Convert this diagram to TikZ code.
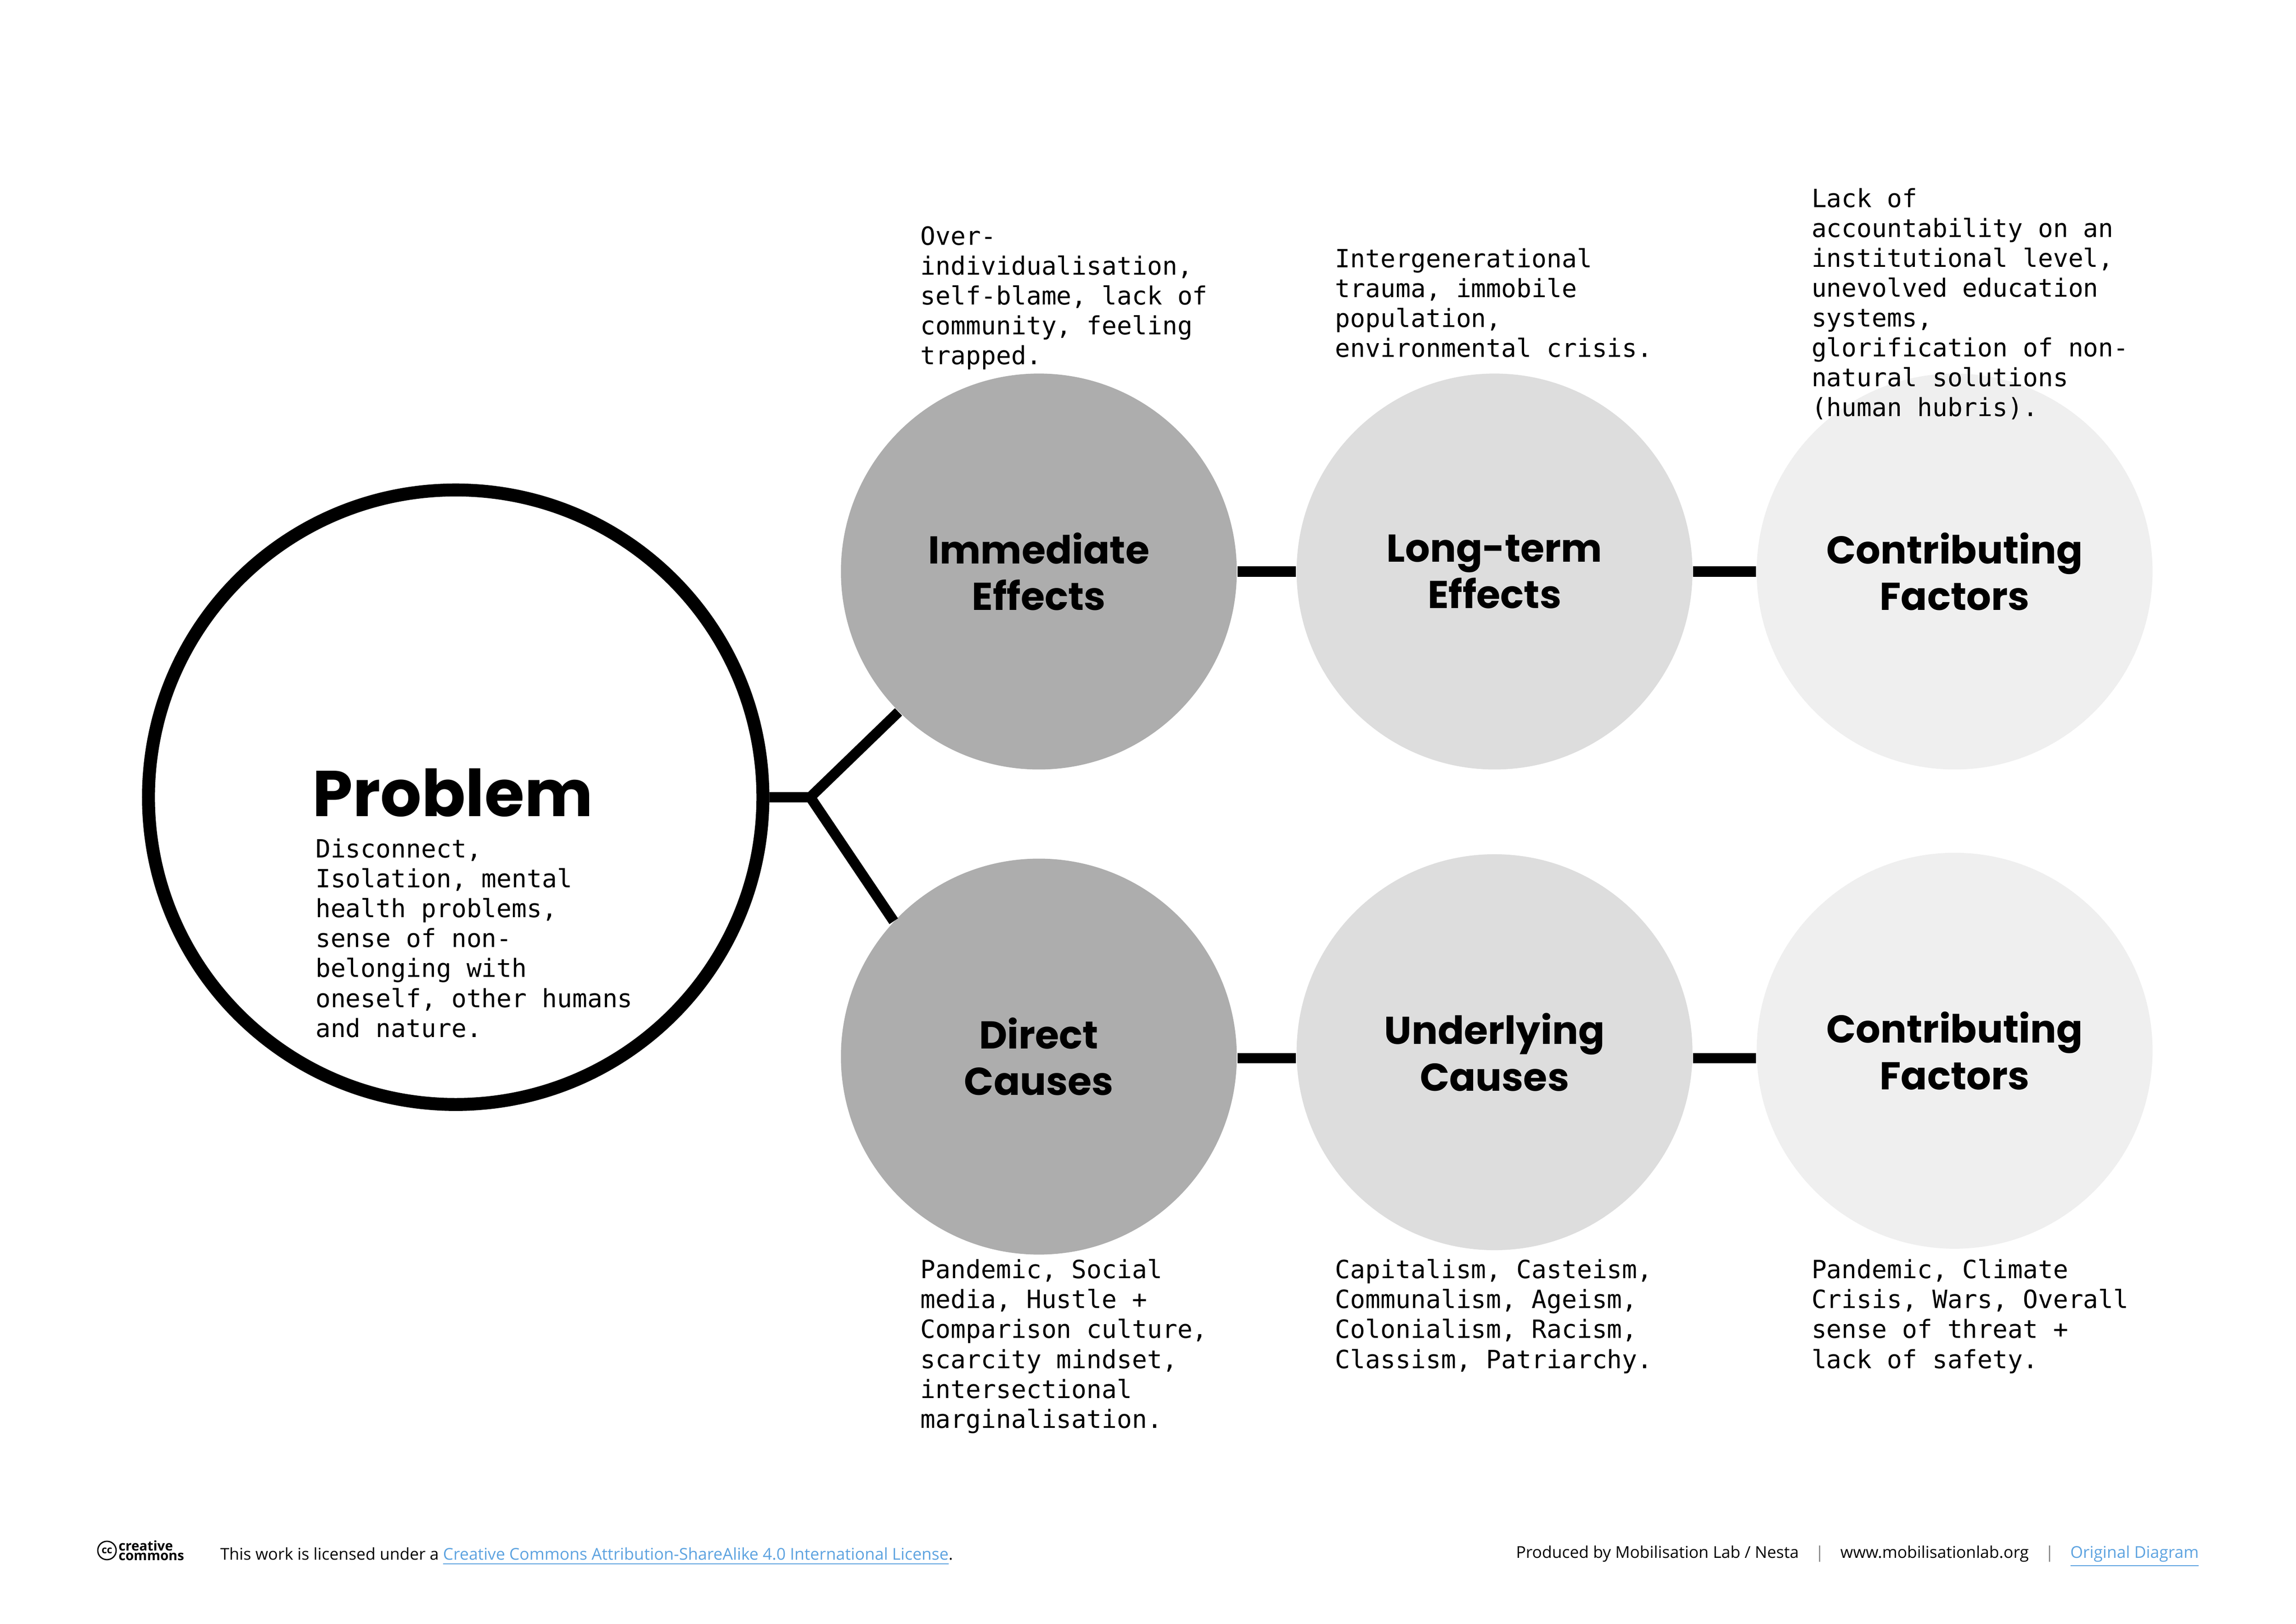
\documentclass[tikz,border=0pt]{standalone}
\usepackage{fontspec}
\setmainfont{Open Sans}
\newfontfamily\titlefont{Poppins}
\setmonofont{DejaVu Sans Mono}
\usetikzlibrary{positioning}
\definecolor{dark}{HTML}{ADADAD}
\definecolor{mid}{HTML}{DDDDDD}
\definecolor{light}{HTML}{EFEFEF}
\definecolor{linkblue}{HTML}{5DA3E0}
\tikzset{bubble/.style = {circle, minimum size = 5.38cm, inner sep = 0pt, align = center,
                          font = \titlefont\bfseries\fontsize{15}{18}\selectfont},
         note/.style = {anchor = north west, inner sep = 0pt, align = left,
                        font = \ttfamily\fontsize{9.7}{11.55}\selectfont},
         link/.style = {line width = 4pt},
         foot/.style = {inner sep = 0pt, font = \fontsize{6.3}{7.5}\selectfont}}
\begin{document}
\begin{tikzpicture}[x = 0.01991cm, y = -0.01991cm]
\useasboundingbox (0,0) rectangle (1567,1108);

% problem
\node[circle, draw, line width = 5pt, minimum size = 8.35cm] (problem) at (311,544) {};
\node[font = \titlefont\bfseries\fontsize{25}{30}\selectfont] (ptitle) at (309,541) {Problem};
\node[note] (ptext) at (215,572) {Disconnect,\\Isolation, mental\\health problems,\\sense of non-\\belonging with\\oneself, other humans\\and nature.};

% circles
\node[bubble, fill = dark] (imm) at (709,390) {Immediate\\Effects};
\node[bubble, fill = mid] (long) at (1020,390) {Long-term\\Effects};
\node[bubble, fill = light] (contop) at (1334,390) {Contributing\\Factors};
\node[bubble, fill = dark] (direct) at (709,721) {Direct\\Causes};
\node[bubble, fill = mid] (under) at (1020,718) {Underlying\\Causes};
\node[bubble, fill = light] (conbot) at (1334,717) {Contributing\\Factors};

% connectors
\coordinate (fork) at (553,544);
\draw[link] (problem.east) -- (fork) -- (imm.225);
\draw[link] (fork) -- (direct.137);
\draw[link] (imm.east) -- (long.west);
\draw[link] (long.east) -- (contop.west);
\draw[link] (direct.east |- 0,722) -- (under.west |- 0,722);
\draw[link] (under.east |- 0,722) -- (conbot.west |- 0,722);

% notes
\node[note] (immtext) at (628,154) {Over-\\individualisation,\\self-blame, lack of\\community, feeling\\trapped.};
\node[note] (longtext) at (911,169) {Intergenerational\\trauma, immobile\\population,\\environmental crisis.};
\node[note] (contoptext) at (1236,128) {Lack of\\accountability on an\\institutional level,\\unevolved education\\systems,\\glorification of non-\\natural solutions\\(human hubris).};
\node[note] (directtext) at (628,859) {Pandemic, Social\\media, Hustle +\\Comparison culture,\\scarcity mindset,\\intersectional\\marginalisation.};
\node[note] (undertext) at (911,859) {Capitalism, Casteism,\\Communalism, Ageism,\\Colonialism, Racism,\\Classism, Patriarchy.};
\node[note] (conbottext) at (1236,859) {Pandemic, Climate\\Crisis, Wars, Overall\\sense of threat +\\lack of safety.};

% footer
\node[circle, draw, line width = 0.5pt, minimum size = 0.25cm, inner sep = 0pt,
      font = \bfseries\fontsize{4}{4}\selectfont] (cc) at (73,1058) {cc};
\node[foot, right = 0.5pt of cc, align = left,
      font = \bfseries\fontsize{5.2}{3.8}\selectfont] (ccword) {creative\\commons};
\node[foot, anchor = west] (license) at (150,1062) {This work is licensed under a \textcolor{linkblue}{\underline{Creative Commons Attribution-ShareAlike 4.0 International License}}.};
\node[foot, anchor = east] (credit) at (1501,1062) {Produced by Mobilisation Lab / Nesta\quad\textcolor{gray}{|}\quad www.mobilisationlab.org\quad\textcolor{gray}{|}\quad\textcolor{linkblue}{\underline{Original Diagram}}};
\end{tikzpicture}
\end{document}
